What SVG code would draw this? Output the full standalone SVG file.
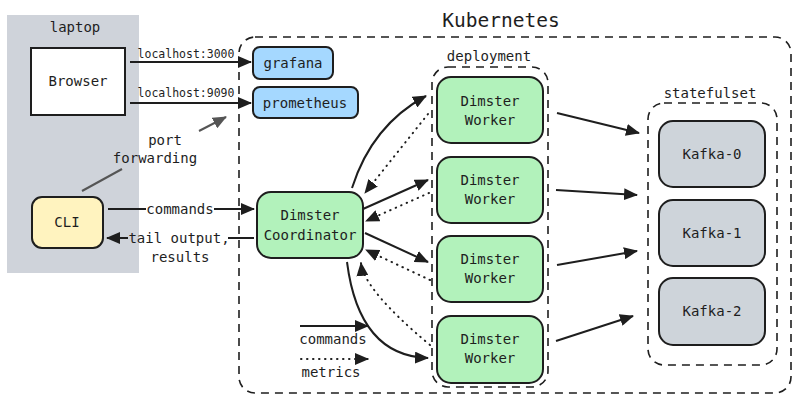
<svg xmlns="http://www.w3.org/2000/svg" width="800" height="403" viewBox="0 0 800 403">
<defs>
<marker id="ah" markerUnits="userSpaceOnUse" markerWidth="14" markerHeight="12" refX="13" refY="6" orient="auto">
<path d="M0,0 L14,6 L0,12 z" fill="#1e1e1e"/>
</marker>
<marker id="ahg" markerUnits="userSpaceOnUse" markerWidth="14" markerHeight="12" refX="13" refY="6" orient="auto">
<path d="M0,0 L14,6 L0,12 z" fill="#555"/>
</marker>
<style>
text{font-family:"DejaVu Sans Mono","Liberation Mono",monospace;fill:#1e1e1e;text-anchor:middle;dominant-baseline:central;font-size:14px}
.small{font-size:11.5px}
.big{font-size:19.5px}
.box{stroke:#1e1e1e;stroke-width:2}
.dash{fill:none;stroke:#1e1e1e;stroke-width:1.6;stroke-dasharray:8 6}
.worker{fill:#b2f2bb}
.kafka{fill:#ced4da}
.svc{fill:#a5d8ff}
.solid{fill:none;stroke:#1e1e1e;stroke-width:2;marker-end:url(#ah)}
.dot{fill:none;stroke:#1e1e1e;stroke-width:2;stroke-dasharray:0.5 5.5;stroke-linecap:round;marker-end:url(#ah)}
.plain{fill:none;stroke:#1e1e1e;stroke-width:2}
</style>
</defs>
<rect width="800" height="403" fill="#ffffff"/>

<g id="laptop">
<rect x="7" y="15" width="132" height="258" fill="#cfd3da"/>
<text x="75" y="27">laptop</text>
</g>
<g id="kubernetes">
<rect class="dash" x="239" y="37" width="552" height="356" rx="16"/>
<text class="big" x="501" y="20">Kubernetes</text>
</g>
<g id="deployment">
<rect class="dash" x="432" y="67" width="116" height="320" rx="16"/>
<text x="489" y="56">deployment</text>
</g>
<g id="statefulset">
<rect class="dash" x="648" y="103" width="129" height="262" rx="16"/>
<text x="710" y="93">statefulset</text>
</g>

<g id="browser">
<rect class="box" x="31" y="48" width="94" height="67" fill="#ffffff"/>
<text x="78" y="81">Browser</text>
</g>
<g id="cli">
<rect class="box" x="32" y="197" width="71" height="51" rx="10" fill="#fff3bf"/>
<text x="67" y="222">CLI</text>
</g>
<g id="grafana">
<rect class="box svc" x="253" y="47" width="80" height="32" rx="7"/>
<text x="293" y="63">grafana</text>
</g>
<g id="prometheus">
<rect class="box svc" x="253" y="87" width="105" height="31" rx="7"/>
<text x="305" y="103">prometheus</text>
</g>
<g id="coordinator">
<rect class="box worker" x="257" y="192" width="106" height="66" rx="14"/>
<text x="310" y="215">Dimster</text>
<text x="310" y="235">Coordinator</text>
</g>
<g id="worker1">
<rect class="box worker" x="437" y="77" width="106" height="66" rx="14"/>
<text x="490" y="101">Dimster</text>
<text x="490" y="120">Worker</text>
</g>
<g id="worker2">
<rect class="box worker" x="437" y="157" width="106" height="66" rx="14"/>
<text x="490" y="180">Dimster</text>
<text x="490" y="199">Worker</text>
</g>
<g id="worker3">
<rect class="box worker" x="437" y="236" width="106" height="66" rx="14"/>
<text x="490" y="259">Dimster</text>
<text x="490" y="278">Worker</text>
</g>
<g id="worker4">
<rect class="box worker" x="437" y="316" width="106" height="67" rx="14"/>
<text x="490" y="339">Dimster</text>
<text x="490" y="358">Worker</text>
</g>
<g id="kafka0">
<rect class="box kafka" x="659" y="121" width="106" height="66" rx="14"/>
<text x="712" y="154">Kafka-0</text>
</g>
<g id="kafka1">
<rect class="box kafka" x="659" y="200" width="106" height="66" rx="14"/>
<text x="712" y="233">Kafka-1</text>
</g>
<g id="kafka2">
<rect class="box kafka" x="659" y="278" width="106" height="67" rx="14"/>
<text x="712" y="311">Kafka-2</text>
</g>

<g id="connectors">
<line class="solid" x1="130" y1="62" x2="251" y2="62"/>
<text class="small" x="186" y="54">localhost:3000</text>
<line class="solid" x1="130" y1="103" x2="251" y2="103"/>
<text class="small" x="186" y="93">localhost:9090</text>

<line x1="199" y1="131" x2="226" y2="117" fill="none" stroke="#555" stroke-width="2" marker-end="url(#ahg)"/>
<text x="165" y="140">port</text>
<text x="155" y="158">forwarding</text>
<line x1="82" y1="191" x2="122" y2="169" stroke="#555" stroke-width="2"/>

<line class="plain" x1="108" y1="209" x2="146" y2="209"/>
<line class="solid" x1="214" y1="209" x2="254" y2="209"/>
<text x="180" y="209">commands</text>
<line class="plain" x1="228" y1="238" x2="254" y2="238"/>
<line class="solid" x1="128" y1="238" x2="107" y2="238"/>
<text x="179" y="238">tail output,</text>
<text x="180" y="257">results</text>

<path class="solid" d="M352,188 Q372,125 426,96"/>
<path class="dot" d="M428,114 L365,193"/>
<path class="solid" d="M363,209 L428,180"/>
<path class="dot" d="M429,193 L366,221"/>
<path class="solid" d="M365,233 L428,262"/>
<path class="dot" d="M430,280 L366,250"/>
<path class="solid" d="M347,262 Q359,356 428,358"/>
<path class="dot" d="M430,345 Q364,290 361,263"/>

<line class="solid" x1="557" y1="113" x2="639" y2="133"/>
<line class="solid" x1="556" y1="190" x2="637" y2="195"/>
<line class="solid" x1="557" y1="265" x2="637" y2="251"/>
<line class="solid" x1="556" y1="341" x2="633" y2="316"/>

<line class="solid" x1="300" y1="326" x2="368" y2="326"/>
<text x="333" y="339">commands</text>
<line class="dot" x1="301" y1="359" x2="368" y2="359"/>
<text x="331" y="372">metrics</text>
</g>
</svg>
